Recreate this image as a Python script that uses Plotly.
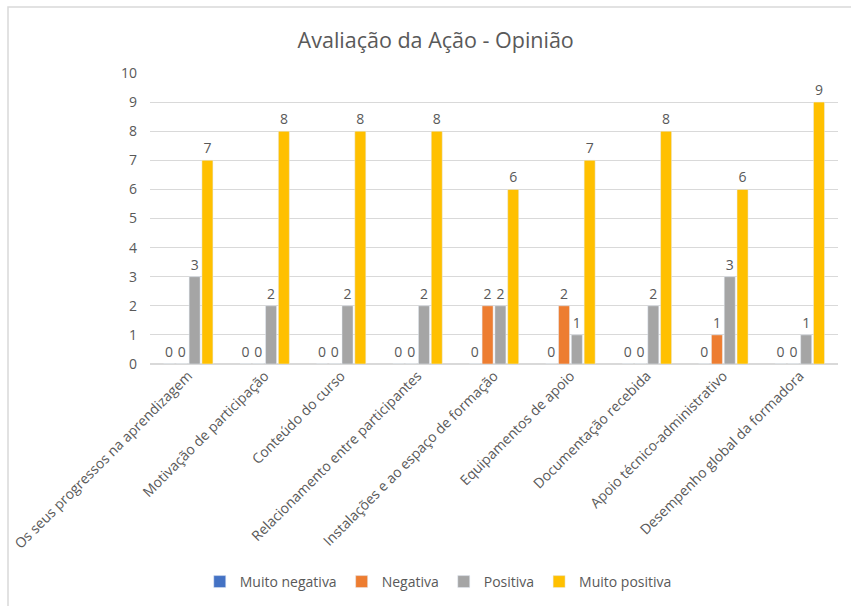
import plotly.graph_objects as go

categories = [
    "Os seus progressos na aprendizagem",
    "Motivação de participação",
    "Conteúdo do curso",
    "Relacionamento entre participantes",
    "Instalações e ao espaço de formação",
    "Equipamentos de apoio",
    "Documentação recebida",
    "Apoio técnico-administrativo",
    "Desempenho global da formadora",
]
muito_negativa = [0, 0, 0, 0, 0, 0, 0, 0, 0]
negativa = [0, 0, 0, 0, 2, 2, 0, 1, 0]
positiva = [3, 2, 2, 2, 2, 1, 2, 3, 1]
muito_positiva = [7, 8, 8, 8, 6, 7, 8, 6, 9]

series = [
    ("Muito negativa", muito_negativa, "#4472C4"),
    ("Negativa", negativa, "#ED7D31"),
    ("Positiva", positiva, "#A5A5A5"),
    ("Muito positiva", muito_positiva, "#FFC000"),
]

FONT = "Open Sans, Noto Sans, sans-serif"
TXT = "#595959"

fig = go.Figure()
for name, vals, col in series:
    fig.add_trace(go.Bar(
        name=name, x=categories, y=vals, marker_color=col,
        text=[str(v) for v in vals],
        textposition="outside",
        textfont=dict(size=14, color=TXT, family=FONT),
        cliponaxis=False,
    ))

W, H = 851, 606
L, R, T, B = 150, 13, 73, 242
pw, ph = W - L - R, H - T - B

fig.update_layout(
    width=W, height=H,
    margin=dict(l=L, r=R, t=T, b=B, autoexpand=False),
    paper_bgcolor="white", plot_bgcolor="white",
    barmode="group", bargap=0.33, bargroupgap=0.14,
    font=dict(family=FONT, color=TXT, size=14),
    title=dict(text="Avaliação da Ação - Opinião", x=0.512, xanchor="center",
               yref="container", y=1 - 40 / H, yanchor="middle",
               font=dict(size=21.5, color=TXT, family=FONT)),
    legend=dict(orientation="h", xref="container", x=0.515, xanchor="center",
                yref="container", y=1 - 582 / H, yanchor="middle",
                font=dict(size=14, color=TXT, family=FONT),
                itemwidth=30, traceorder="normal"),
    uniformtext=dict(mode=False),
)
fig.update_yaxes(range=[0, 10], dtick=1, showgrid=True, gridcolor="#D9D9D9",
                 gridwidth=1, zeroline=True, zerolinecolor="#D9D9D9",
                 showline=False, ticks="", ticklen=0, automargin=False,
                 tickfont=dict(size=14, color=TXT), ticklabelstandoff=12)
fig.update_xaxes(tickangle=-45, showline=False, ticks="", automargin=False,
                 tickfont=dict(size=14, color=TXT))

fig.add_shape(type="rect", xref="paper", yref="paper",
              x0=(8 - L) / pw, x1=(W + 10 - L) / pw,
              y0=-(H + 10 - (H - B)) / ph, y1=(H - B - 7) / ph,
              line=dict(color="#D9D9D9", width=1.5), fillcolor="rgba(0,0,0,0)",
              layer="below")

fig.write_html("out.html")
